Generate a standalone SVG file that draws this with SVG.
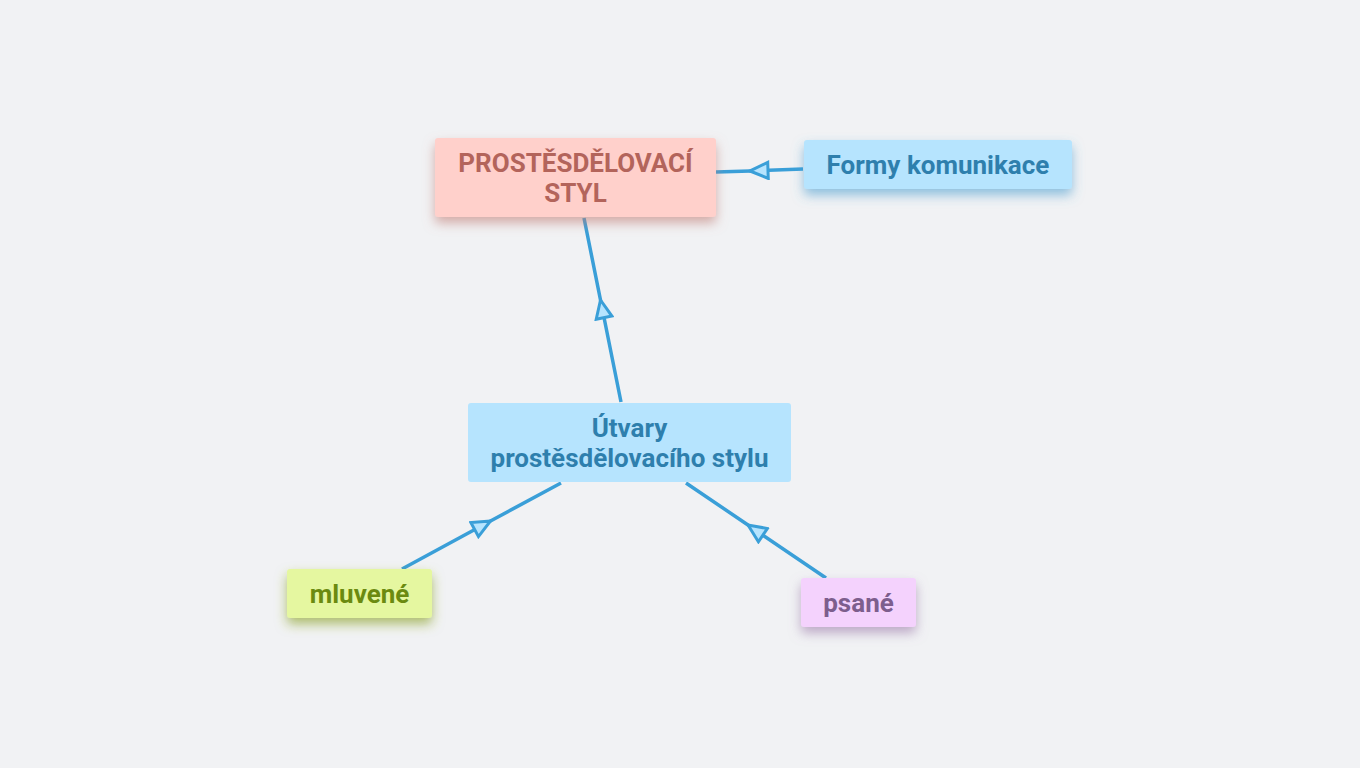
<svg xmlns="http://www.w3.org/2000/svg" width="1360" height="768" viewBox="0 0 1360 768">
<defs>
<style>
text{font-family:Roboto,"Liberation Sans",sans-serif;font-weight:bold;font-size:26px;text-anchor:middle}
.edge{fill:none;stroke:#3a9fd8;stroke-width:3.5;marker-mid:url(#tri)}
</style>
<marker id="tri" viewBox="0 0 26 20" refX="22" refY="10" markerWidth="26" markerHeight="20" markerUnits="userSpaceOnUse" orient="auto">
<path d="M22,10 L4,2 L4,18 Z" fill="#b6e4fe" stroke="#3a9fd8" stroke-width="3" stroke-linejoin="miter"/>
</marker>
<filter id="shRed" x="-20%" y="-30%" width="140%" height="180%"><feDropShadow dx="0" dy="6" stdDeviation="6" flood-color="#c07a72" flood-opacity="0.6"/></filter>
<filter id="shBlue" x="-20%" y="-30%" width="140%" height="180%"><feDropShadow dx="0" dy="6" stdDeviation="6" flood-color="#4a9ccf" flood-opacity="0.6"/></filter>
<filter id="shGreen" x="-20%" y="-30%" width="140%" height="180%"><feDropShadow dx="0" dy="6" stdDeviation="6" flood-color="#8aa020" flood-opacity="0.65"/></filter>
<filter id="shPink" x="-20%" y="-30%" width="140%" height="180%"><feDropShadow dx="0" dy="6" stdDeviation="6" flood-color="#9a78a8" flood-opacity="0.6"/></filter>
</defs>
<rect width="1360" height="768" fill="#f1f2f4"/>
<g id="connectors">
<path class="edge" d="M803,169 L750,171 L716,172"/>
<path class="edge" d="M621,402 L600.5,300 L584,218"/>
<path class="edge" d="M402,569 L490.5,521 L561,483"/>
<path class="edge" d="M826,578 L748,525 L686,483"/>
</g>
<g id="n-prostesdelovaci">
<rect x="435" y="138" width="281" height="79" rx="3" fill="#ffd0cb" filter="url(#shRed)"/>
<text x="575.5" y="172" fill="#b3645b">PROSTĚSDĚLOVACÍ</text>
<text x="575.5" y="202" fill="#b3645b">STYL</text>
</g>
<g id="n-formy">
<rect x="804" y="140" width="268" height="49" rx="3" fill="#b6e4fe" filter="url(#shBlue)"/>
<text x="938" y="174" fill="#2e7fad">Formy komunikace</text>
</g>
<g id="n-utvary">
<rect x="468" y="403" width="323" height="79" rx="3" fill="#b6e4fe"/>
<text x="629.5" y="437" fill="#2e7fad">Útvary</text>
<text x="629.5" y="467" fill="#2e7fad">prostěsdělovacího stylu</text>
</g>
<g id="n-mluvene">
<rect x="287" y="569" width="145" height="49" rx="3" fill="#e5f7a0" filter="url(#shGreen)"/>
<text x="359.5" y="603" fill="#6b8a10">mluvené</text>
</g>
<g id="n-psane">
<rect x="801" y="578" width="115" height="49" rx="3" fill="#f4d2fd" filter="url(#shPink)"/>
<text x="858.5" y="612" fill="#7d5e8d">psané</text>
</g>
</svg>
